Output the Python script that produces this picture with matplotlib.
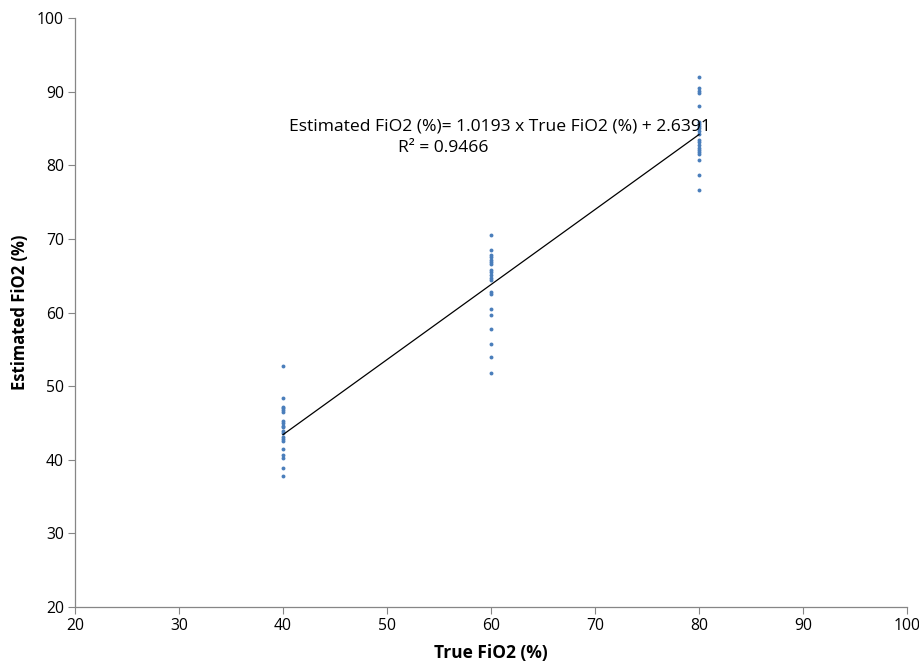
import numpy as np
import matplotlib
matplotlib.use("Agg")
import matplotlib.pyplot as plt

plt.rcParams['font.family'] = ['Open Sans', 'DejaVu Sans']

# true FiO2 settings and the estimated values
est_40 = [52.7, 48.4, 47.2, 47.0, 46.8, 46.5, 45.3, 45.0, 44.6, 44.4,
          43.9, 43.6, 43.1, 42.8, 42.5, 41.5, 40.6, 40.3, 38.9, 37.8]
est_60 = [70.5, 68.5, 67.8, 67.5, 67.1, 66.9, 66.6, 65.8, 65.5, 65.1,
          64.7, 64.4, 62.8, 62.5, 60.5, 59.6, 57.7, 55.7, 53.9, 51.8]
est_80 = [92.0, 90.5, 90.1, 89.8, 88.0, 85.9, 85.6, 85.3, 85.0, 84.6,
          84.2, 83.5, 83.1, 82.8, 82.4, 82.1, 81.8, 81.5, 80.7, 78.7, 76.7]

true_x = [40] * len(est_40) + [60] * len(est_60) + [80] * len(est_80)
est_y = est_40 + est_60 + est_80

slope = 1.0193
intercept = 2.6391
r2 = 0.9466

fig = plt.figure(figsize=(9.19, 6.69), dpi=100)
ax = fig.add_axes([0.0816, 0.0927, 0.9054, 0.8803])

ax.plot(true_x, est_y, 'o', color='#4a7ebb', markersize=2.8, markeredgewidth=0)

# linear trendline over the data range
xl = np.array([min(true_x), max(true_x)])
ax.plot(xl, slope * xl + intercept, color='black', linewidth=0.9)

ax.text(60.87, 85.26, "Estimated FiO2 (%%)= %.4f x True FiO2 (%%) + %.4f" % (slope, intercept),
        fontsize=12.6, va='center', ha='center')
ax.text(55.4, 82.35, "R² = %.4f" % r2, fontsize=12.6, va='center', ha='center')

ax.set_xlim(20, 100)
ax.set_ylim(20, 100)
ax.set_xticks(np.arange(20, 101, 10))
ax.set_yticks(np.arange(20, 101, 10))

for s in ['top', 'right']:
    ax.spines[s].set_visible(False)
for s in ['left', 'bottom']:
    ax.spines[s].set_color('#868686')
    ax.spines[s].set_linewidth(0.9)
ax.tick_params(direction='out', length=5, color='#868686', labelsize=11.3, pad=3)

ax.set_xlabel("True FiO2 (%)", fontsize=12.5, fontweight='bold', labelpad=7)
ax.set_ylabel("Estimated FiO2 (%)", fontsize=12, fontweight='bold', labelpad=6)

fig.savefig("out.png", dpi=100)
